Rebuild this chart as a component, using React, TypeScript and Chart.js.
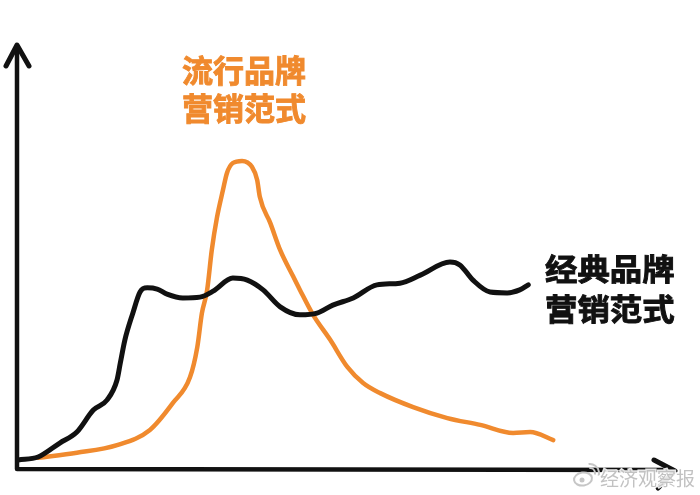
import React, { useEffect, useRef } from "react";
import { Chart, registerables } from "chart.js";

Chart.register(...registerables);

// Time (x) and market response (y) for the two branding paradigms, on a 0–100 scale.
const classicX = [0.2, 3.2, 6.5, 9.1, 11.6, 13.7, 15.2, 15.7, 16.4, 17.6, 18.7, 19.8, 21.3, 22.8, 25.2, 27.8, 29.8, 32.8, 35.0, 37.4, 40.0, 43.0, 45.6, 48.0, 51.1, 54.7, 58.2, 61.3, 65.8, 67.3, 69.3, 71.9, 74.5, 76.4, 77.7];
const classicY = [1.9, 2.6, 5.9, 8.5, 13.7, 16.1, 20.8, 24.8, 30.3, 36.6, 41.6, 42.6, 42.3, 41.1, 40.2, 40.4, 41.8, 44.9, 44.4, 42.1, 38.1, 36.2, 36.6, 38.5, 40.2, 43.3, 43.7, 45.6, 48.7, 48.0, 44.4, 41.6, 41.4, 42.1, 43.3];

const trendyX = [3.2, 9.1, 15.2, 20.2, 23.7, 26.3, 27.4, 28.1, 28.9, 29.6, 30.4, 31.3, 31.9, 32.8, 34.2, 35.7, 36.5, 36.9, 38.5, 40.0, 42.0, 43.0, 45.0, 47.6, 50.2, 52.6, 55.2, 60.2, 65.4, 70.4, 75.4, 78.0, 81.5];
const trendyY = [2.4, 3.6, 5.4, 9.0, 15.4, 21.5, 28.6, 36.6, 42.1, 51.5, 59.3, 65.7, 69.7, 72.1, 72.6, 71.2, 68.1, 64.1, 57.9, 51.5, 45.2, 42.1, 36.2, 30.3, 23.9, 20.1, 17.7, 14.4, 11.8, 10.2, 8.3, 8.5, 6.6];

const trendyLabel = ["流行品牌", "营销范式"];
const classicLabel = ["经典品牌", "营销范式"];
const watermark = "经济观察报";

const ORANGE = "#F08A2E";
const INK = "#111111";
const CJK = "'Noto Sans CJK SC', 'Noto Sans', sans-serif";

const toPoints = (xs: number[], ys: number[]) => xs.map((x, i) => ({ x, y: ys[i] }));

// Hand-drawn style axes with chevron arrow heads.
const sketchAxes = {
  id: "sketchAxes",
  afterDatasetsDraw(chart: Chart) {
    const { ctx, chartArea } = chart;
    const { left, right, top, bottom } = chartArea;
    ctx.save();
    ctx.strokeStyle = INK;
    ctx.lineCap = "round";
    ctx.lineJoin = "round";

    ctx.lineWidth = 4.5;
    ctx.beginPath();
    ctx.moveTo(left, top + 2);
    ctx.lineTo(left, bottom + 1);
    ctx.lineTo(right - 2, bottom + 2);
    ctx.stroke();

    ctx.lineWidth = 5;
    ctx.beginPath();
    ctx.moveTo(left - 11, top + 21);
    ctx.lineTo(left, top);
    ctx.lineTo(left + 12, top + 21);
    ctx.stroke();

    ctx.beginPath();
    ctx.moveTo(right - 21, bottom - 8);
    ctx.lineTo(right, bottom + 3);
    ctx.lineTo(right - 17, bottom + 20);
    ctx.stroke();
    ctx.restore();
  },
};

const drawLines = (
  ctx: CanvasRenderingContext2D,
  lines: string[],
  x: number,
  y: number,
  size: number,
  gap: number,
  color: string,
  sx: number
) => {
  ctx.save();
  ctx.fillStyle = color;
  ctx.strokeStyle = color;
  ctx.lineWidth = 0.9;
  ctx.font = `bold ${size}px ${CJK}`;
  ctx.textAlign = "left";
  ctx.textBaseline = "middle";
  lines.forEach((line, i) => {
    ctx.save();
    ctx.translate(x, y + i * gap);
    ctx.scale(sx, 1);
    ctx.fillText(line, 0, 0);
    ctx.strokeText(line, 0, 0);
    ctx.restore();
  });
  ctx.restore();
};

// Series captions and the publisher mark.
const captions = {
  id: "captions",
  afterDraw(chart: Chart) {
    const { ctx, chartArea } = chart;
    const { left, top, bottom } = chartArea;
    drawLines(ctx, trendyLabel, left + 165, top + 25, 31, 38.5, ORANGE, 1.0);
    drawLines(ctx, classicLabel, left + 528, top + 224, 30, 40, INK, 1.08);

    // Weibo-style logo followed by the publisher name
    const wx = left + 566;
    const wy = bottom + 11;
    ctx.save();
    ctx.strokeStyle = "#c6c6c6";
    ctx.fillStyle = "#c6c6c6";
    ctx.lineWidth = 2;
    ctx.beginPath();
    ctx.ellipse(wx, wy, 9, 6.5, -0.15, 0, Math.PI * 2);
    ctx.stroke();
    ctx.beginPath();
    ctx.arc(wx - 1, wy + 1, 2.5, 0, Math.PI * 2);
    ctx.fill();
    ctx.beginPath();
    ctx.arc(wx + 7, wy - 6, 5, -Math.PI * 0.55, Math.PI * 0.1);
    ctx.stroke();
    ctx.beginPath();
    ctx.arc(wx + 7, wy - 6, 9, -Math.PI * 0.55, Math.PI * 0.1);
    ctx.stroke();

    ctx.font = `19px ${CJK}`;
    ctx.textAlign = "left";
    ctx.textBaseline = "middle";
    ctx.lineWidth = 3;
    ctx.strokeStyle = "rgba(255,255,255,0.9)";
    ctx.strokeText(watermark, left + 583, wy);
    ctx.fillStyle = "#c2c2c2";
    ctx.fillText(watermark, left + 583, wy);
    ctx.restore();
  },
};

export default function App() {
  const canvasRef = useRef<HTMLCanvasElement | null>(null);

  useEffect(() => {
    if (!canvasRef.current) return;
    const chart = new Chart(canvasRef.current, {
      type: "line",
      data: {
        datasets: [
          {
            label: classicLabel.join(""),
            data: toPoints(classicX, classicY),
            borderColor: INK,
            borderWidth: 5,
            pointRadius: 0,
            cubicInterpolationMode: "monotone",
            borderCapStyle: "round",
            borderJoinStyle: "round",
          },
          {
            label: trendyLabel.join(""),
            data: toPoints(trendyX, trendyY),
            borderColor: ORANGE,
            borderWidth: 4.5,
            pointRadius: 0,
            cubicInterpolationMode: "monotone",
            borderCapStyle: "round",
            borderJoinStyle: "round",
          },
        ],
      },
      options: {
        animation: false,
        responsive: false,
        maintainAspectRatio: false,
        layout: { padding: { left: 17, top: 45, right: 25, bottom: 27 } },
        scales: {
          x: { type: "linear", min: 0, max: 100, display: false },
          y: { type: "linear", min: 0, max: 100, display: false },
        },
        plugins: {
          legend: { display: false },
          tooltip: { enabled: false },
          title: { display: false },
        },
      },
      plugins: [sketchAxes, captions],
    });
    return () => chart.destroy();
  }, []);

  return (
    <div style={{ position: "absolute", left: 0, top: 0, width: 700, height: 495, background: "#ffffff" }}>
      <canvas ref={canvasRef} width={700} height={495} style={{ display: "block" }} />
    </div>
  );
}
